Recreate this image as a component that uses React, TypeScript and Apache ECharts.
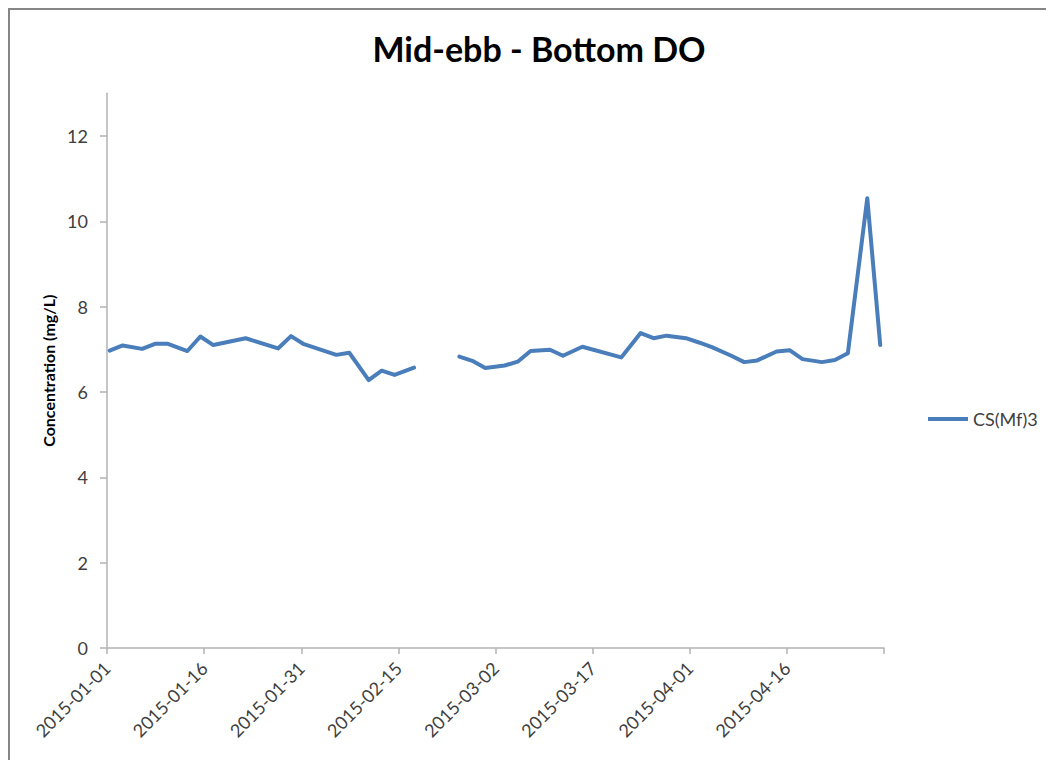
import React, { useEffect, useRef } from "react";
import * as echarts from "echarts";

const seriesName = "CS(Mf)3";

// sampling dates (all samples taken around 10:00 on each day)
const sampleTime = "10:00";
const dates = [
  "2015-01-01", "2015-01-03", "2015-01-06", "2015-01-08", "2015-01-10", "2015-01-13",
  "2015-01-15", "2015-01-17", "2015-01-22", "2015-01-27", "2015-01-29", "2015-01-31",
  "2015-02-05", "2015-02-07", "2015-02-10", "2015-02-12", "2015-02-14", "2015-02-17",
  "2015-02-19", "2015-02-21",
  "2015-02-24", "2015-02-26", "2015-02-28", "2015-03-03", "2015-03-05", "2015-03-07",
  "2015-03-10", "2015-03-12", "2015-03-15", "2015-03-21", "2015-03-24", "2015-03-26",
  "2015-03-28", "2015-03-31", "2015-04-02", "2015-04-04", "2015-04-07", "2015-04-09",
  "2015-04-11", "2015-04-14", "2015-04-16", "2015-04-18", "2015-04-21", "2015-04-23",
  "2015-04-25", "2015-04-28", "2015-04-30",
];

const values: (number | null)[] = [
  6.97, 7.09, 7.01, 7.13, 7.13, 6.96,
  7.30, 7.10, 7.26, 7.02, 7.31, 7.12,
  6.87, 6.92, 6.28, 6.50, 6.40, 6.57,
  null, null,
  6.83, 6.73, 6.56, 6.62, 6.71, 6.96,
  6.99, 6.85, 7.06, 6.81, 7.38, 7.26,
  7.32, 7.26, 7.16, 7.05, 6.85, 6.70,
  6.74, 6.95, 6.98, 6.77, 6.70, 6.75,
  6.91, 10.54, 7.10,
];

const xTickLabels = [
  "2015-01-01", "2015-01-16", "2015-01-31", "2015-02-15",
  "2015-03-02", "2015-03-17", "2015-04-01", "2015-04-16",
];
const yTicks = [0, 2, 4, 6, 8, 10, 12];

const START = Date.UTC(2015, 0, 1);
const DAY = 86400000;
const dayOf = (d: string, t = "00:00") => (Date.parse(d + "T" + t + ":00Z") - START) / DAY;
const dayToDate = (n: number) => new Date(START + Math.round(n) * DAY).toISOString().slice(0, 10);

const FONT = "Lato, 'Open Sans', sans-serif";
const BLUE = "#4a7ebb";

export default function App() {
  const ref = useRef<HTMLDivElement>(null);
  useEffect(() => {
    if (!ref.current) return;
    const chart = echarts.init(ref.current, undefined, { renderer: "svg" });
    const data = dates.map((d, i) => [dayOf(d, sampleTime), values[i] == null ? "-" : values[i]]);
    const labelDays = xTickLabels.map((d) => dayOf(d));
    chart.setOption({
      animation: false,
      backgroundColor: "#fff",
      textStyle: { fontFamily: FONT },
      title: {
        text: "Mid-ebb - Bottom DO",
        left: 524,
        top: 16,
        textAlign: "center",
        textStyle: { fontFamily: FONT, fontSize: 34, fontWeight: "bold", color: "#000" },
      },
      legend: {
        orient: "vertical",
        left: 913,
        top: 395,
        icon: "path://M0,0H40V4H0Z",
        itemWidth: 40,
        itemHeight: 4,
        itemGap: 6,
        textStyle: { fontFamily: FONT, fontSize: 18, color: "#404040" },
        data: [seriesName],
      },
      grid: { left: 97, top: 83.3, width: 777, height: 554.7, containLabel: false },
      xAxis: {
        type: "value",
        min: 0,
        max: 120,
        interval: 15,
        splitLine: { show: false },
        axisLine: { lineStyle: { color: "#b3b3b3", width: 1.5 } },
        axisTick: { show: true, length: 6, lineStyle: { color: "#b3b3b3", width: 1.5 } },
        axisLabel: {
          rotate: 45,
          margin: 17,
          fontFamily: FONT,
          fontSize: 18,
          color: "#404040",
          customValues: labelDays,
          formatter: (v: number) => dayToDate(v),
        },
      },
      yAxis: {
        type: "value",
        min: 0,
        max: 13,
        interval: 1,
        name: "Concentration (mg/L)",
        nameLocation: "middle",
        nameGap: 50,
        nameTextStyle: { fontFamily: FONT, fontSize: 16, fontWeight: "bold", color: "#000" },
        splitLine: { show: false },
        axisLine: { show: true, lineStyle: { color: "#b3b3b3", width: 1.5 } },
        axisTick: { show: true, length: 7, customValues: yTicks, lineStyle: { color: "#b3b3b3", width: 1.5 } },
        axisLabel: {
          margin: 19,
          fontFamily: FONT,
          fontSize: 18,
          color: "#404040",
          customValues: yTicks,
        },
      },
      series: [
        {
          name: seriesName,
          type: "line",
          data,
          symbol: "none",
          connectNulls: false,
          lineStyle: { color: BLUE, width: 4, cap: "round", join: "round" },
          itemStyle: { color: BLUE },
        },
      ],
    });
    return () => chart.dispose();
  }, []);
  return (
    <div style={{ width: 1046, height: 760, border: "2px solid #868686", borderBottom: "none", boxSizing: "border-box" }}>
      <div ref={ref} style={{ width: 1042, height: 758 }} />
    </div>
  );
}
